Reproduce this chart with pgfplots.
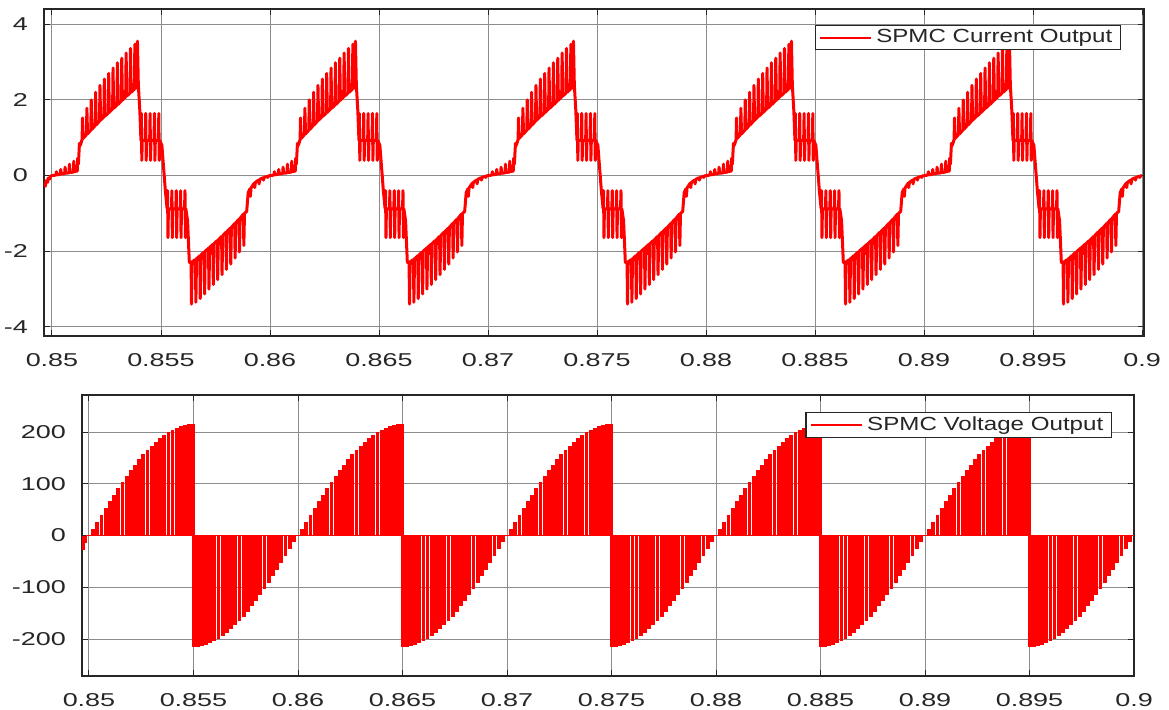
\documentclass[border=0pt]{standalone}
\usepackage{pgfplots}
\pgfplotsset{compat=1.18}
\usepackage{pgfplotstable}
\usepackage{fontspec}
\setmainfont{Liberation Sans}
\newfontfamily\tickfont{Liberation Sans}[FakeStretch=1.45]
\newfontfamily\legfont{Liberation Sans}[FakeStretch=1.27]
\definecolor{axc}{HTML}{262626}
\definecolor{gridc}{HTML}{8C8C8C}

% one period of the current (t in s, i in A)
\pgfplotstableread{
t i
0.85000 0.00
0.85018 0.01
0.85020 0.10
0.85023 0.02
0.85038 0.03
0.85040 0.16
0.85043 0.04
0.85058 0.05
0.85060 0.22
0.85063 0.06
0.85078 0.07
0.85080 0.30
0.85083 0.08
0.85098 0.09
0.85100 0.38
0.85103 0.10
0.85116 0.12
0.85118 0.46
0.85121 0.30
0.85126 0.85
0.85130 0.80
0.85138 0.95
0.85140 1.52
0.85143 0.98
0.85158 1.08
0.85160 1.78
0.85163 1.10
0.85178 1.20
0.85180 2.00
0.85183 1.22
0.85198 1.32
0.85200 2.20
0.85203 1.34
0.85218 1.44
0.85220 2.38
0.85223 1.46
0.85238 1.55
0.85240 2.55
0.85243 1.57
0.85258 1.65
0.85260 2.70
0.85263 1.67
0.85278 1.76
0.85280 2.84
0.85283 1.78
0.85298 1.86
0.85300 2.98
0.85303 1.88
0.85318 1.97
0.85320 3.10
0.85323 1.99
0.85338 2.08
0.85340 3.24
0.85343 2.10
0.85358 2.18
0.85360 3.36
0.85363 2.20
0.85378 2.28
0.85380 3.47
0.85383 2.30
0.85390 2.35
0.85392 3.55
0.85396 2.40
0.85403 1.70
0.85408 0.93
0.85410 1.64
0.85412 0.40
0.85414 0.93
0.85428 0.93
0.85430 1.64
0.85432 0.40
0.85434 0.93
0.85448 0.93
0.85450 1.64
0.85452 0.40
0.85454 0.93
0.85468 0.93
0.85470 1.64
0.85472 0.40
0.85474 0.93
0.85488 0.93
0.85490 1.64
0.85492 0.40
0.85494 0.93
0.85504 0.80
0.85520 -0.40
0.85528 -0.88
0.85530 -0.40
0.85532 -1.64
0.85534 -0.88
0.85548 -0.88
0.85550 -0.40
0.85552 -1.64
0.85554 -0.88
0.85568 -0.88
0.85570 -0.40
0.85572 -1.64
0.85574 -0.88
0.85588 -0.88
0.85590 -0.40
0.85592 -1.64
0.85594 -0.88
0.85608 -0.88
0.85610 -0.40
0.85612 -1.64
0.85614 -0.88
0.85622 -1.20
0.85630 -2.30
0.85638 -2.30
0.85640 -3.40
0.85643 -2.28
0.85658 -2.22
0.85660 -3.35
0.85663 -2.20
0.85678 -2.12
0.85680 -3.25
0.85683 -2.10
0.85698 -2.02
0.85700 -3.13
0.85703 -2.00
0.85718 -1.92
0.85720 -3.00
0.85723 -1.90
0.85738 -1.82
0.85740 -2.88
0.85743 -1.80
0.85758 -1.72
0.85760 -2.75
0.85763 -1.70
0.85778 -1.61
0.85780 -2.62
0.85783 -1.59
0.85798 -1.50
0.85800 -2.48
0.85803 -1.48
0.85818 -1.39
0.85820 -2.34
0.85823 -1.37
0.85838 -1.27
0.85840 -2.18
0.85843 -1.25
0.85858 -1.15
0.85860 -2.02
0.85863 -1.13
0.85878 -1.02
0.85880 -1.85
0.85883 -1.00
0.85893 -0.95
0.85900 -0.45
0.85908 -0.35
0.85910 -0.55
0.85913 -0.33
0.85928 -0.20
0.85930 -0.32
0.85933 -0.18
0.85948 -0.12
0.85950 -0.22
0.85953 -0.10
0.85968 -0.06
0.85970 -0.12
0.85973 -0.05
0.85988 -0.02
0.85990 -0.05
0.85993 -0.01
0.86000 0.00
}\curr

% one period of the voltage pulses (t in s, v in V)
\pgfplotstableread{
t v
0.85020 13.5
0.85040 26.9
0.85060 40.3
0.85080 53.5
0.85100 66.4
0.85120 79.1
0.85140 91.5
0.85160 103.6
0.85180 115.2
0.85200 126.4
0.85220 137.0
0.85240 147.2
0.85260 156.7
0.85280 165.7
0.85300 173.9
0.85320 181.5
0.85340 188.4
0.85360 194.5
0.85380 199.9
0.85400 204.5
0.85420 208.2
0.85440 211.2
0.85460 213.3
0.85480 214.6
0.85497 215.0
0.85503 -215.0
0.85520 -214.6
0.85540 -213.3
0.85560 -211.2
0.85580 -208.2
0.85600 -204.5
0.85620 -199.9
0.85640 -194.5
0.85660 -188.4
0.85680 -181.5
0.85700 -173.9
0.85720 -165.7
0.85740 -156.7
0.85760 -147.2
0.85780 -137.0
0.85800 -126.4
0.85820 -115.2
0.85840 -103.6
0.85860 -91.5
0.85880 -79.1
0.85900 -66.4
0.85920 -53.5
0.85940 -40.3
0.85960 -26.9
0.85980 -13.5
}\volt

\pgfplotsset{
  mstyle/.style={
    scale only axis,
    axis line style={axc, line width=0.7pt},
    grid=major,
    major grid style={gridc, line width=0.5pt},
    tick align=inside,
    major tick length=3pt,
    tick style={axc, line width=0.5pt},
    tick label style={font=\tickfont\fontsize{9.3}{10}\selectfont, text=axc},
    /pgf/number format/assume math mode=true,
    scaled x ticks=false,
    scaled y ticks=false,
    xtick={0.85,0.855,0.86,0.865,0.87,0.875,0.88,0.885,0.89,0.895,0.9},
    xticklabels={0.85,0.855,0.86,0.865,0.87,0.875,0.88,0.885,0.89,0.895,0.9},
    xticklabel style={yshift=-5pt},
    yticklabel style={xshift=-4.5pt},
    legend style={anchor=north east, draw=axc, line width=0.6pt,
      font=\legfont\fontsize{9.5}{10}\selectfont, text=axc,
      inner xsep=2pt, inner ysep=0pt, cells={anchor=west}},
    legend image code/.code={\draw[##1] (0pt,0pt) -- (25.5pt,0pt);},
  }
}

\begin{document}
\begin{tikzpicture}
\useasboundingbox (0,0) rectangle (584.5pt,354.5pt);

\begin{axis}[mstyle,
  at={(22pt,186.5pt)}, anchor=south west,
  width=550pt, height=163.5pt,
  xmin=0.849633, xmax=0.900092,
  ymin=-4.24, ymax=4.40,
  ytick={-4,-2,0,2,4},
  legend style={at={(0.979,0.951)}},
]
\addlegendimage{draw=red, line width=0.8pt}
\addlegendentry{SPMC Current Output}
\addplot[red, line width=1.5pt, line join=round, mark=none, forget plot] coordinates {
(0.84963,-0.20) (0.84970,-0.28) (0.84972,-0.14) (0.84980,-0.18) (0.84982,-0.07) (0.84990,-0.09) (0.84992,-0.02) (0.85000,0.00)};
\pgfplotsinvokeforeach{0,1,2,3,4}{
  \addplot[red, line width=1.5pt, line join=round, mark=none, forget plot]
    table[x expr=\thisrow{t}+#1*0.01, y=i] {\curr};
}
\end{axis}

\begin{axis}[mstyle,
  at={(41pt,16.5pt)}, anchor=south west,
  width=526pt, height=140.5pt,
  xmin=0.849665, xmax=0.9,
  ymin=-271.5, ymax=271.5,
  ytick={-200,-100,0,100,200},
  legend style={at={(0.979,0.9395)}},
]
\addlegendimage{draw=red, line width=1.1pt}
\addlegendentry{SPMC Voltage Output}
\addplot[red, line width=0.8pt, mark=none, forget plot] coordinates {(0.84985,0) (0.9,0)};
\addplot[ycomb, red, line width=1.9pt, mark=none, forget plot] coordinates {(0.84970,-28) (0.84980,-14)};
\pgfplotsinvokeforeach{0,1,2,3,4}{
  \addplot[ycomb, red, line width=1.9pt, mark=none, forget plot]
    table[x expr=\thisrow{t}+#1*0.01, y=v] {\volt};
}
\end{axis}
\end{tikzpicture}
\end{document}
